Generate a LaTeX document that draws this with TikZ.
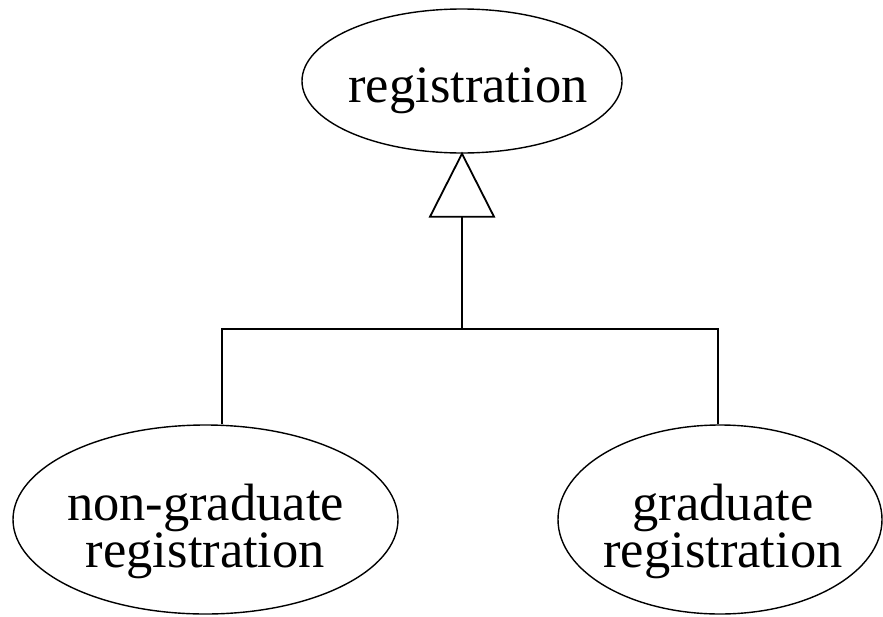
\documentclass[tikz,border=0pt]{standalone}
\usepackage{fontspec}
\setmainfont{Liberation Serif}
\usetikzlibrary{shapes.geometric,calc}
\newcommand{\lowtxt}[2]{\makebox[0pt]{\raisebox{-#1}[0pt][0pt]{\vbox{\baselineskip=47pt\lineskiplimit=-100pt\halign{\hfil##\hfil\cr#2\cr}}}}}
\tikzset{
  entity/.style={ellipse, draw, line width=1.4pt, inner sep=0pt,
    font=\fontsize{52.5}{47}\selectfont},
  conn/.style={line width=1.8pt}
}
\begin{document}
\begin{tikzpicture}[x=1pt,y=-1pt]
\useasboundingbox (0,0) rectangle (883,616);
\node[entity, minimum width=320pt, minimum height=144pt] (top) at (462,81)
  {\hspace*{12pt}\lowtxt{21pt}{registration}};
\node[entity, minimum width=385pt, minimum height=189pt] (left) at (205.5,519.5)
  {\lowtxt{47.5pt}{non-graduate\cr registration}};
\node[entity, minimum width=324pt, minimum height=189pt] (right) at (720,519.5)
  {\hspace*{6pt}\lowtxt{47.5pt}{graduate\cr registration}};
\coordinate (tribase) at ($(top.south)+(0,63)$);
\coordinate (bus) at (462,329);
\draw[conn, line join=miter] (top.south) -- ++(32,63) -- ++(-64,0) -- cycle;
\draw[conn] (tribase) -- (bus);
\draw[conn] ($(left.north)+(16.5,0)$) |- (bus) -| ($(right.north)+(-2,0)$);
\end{tikzpicture}
\end{document}
